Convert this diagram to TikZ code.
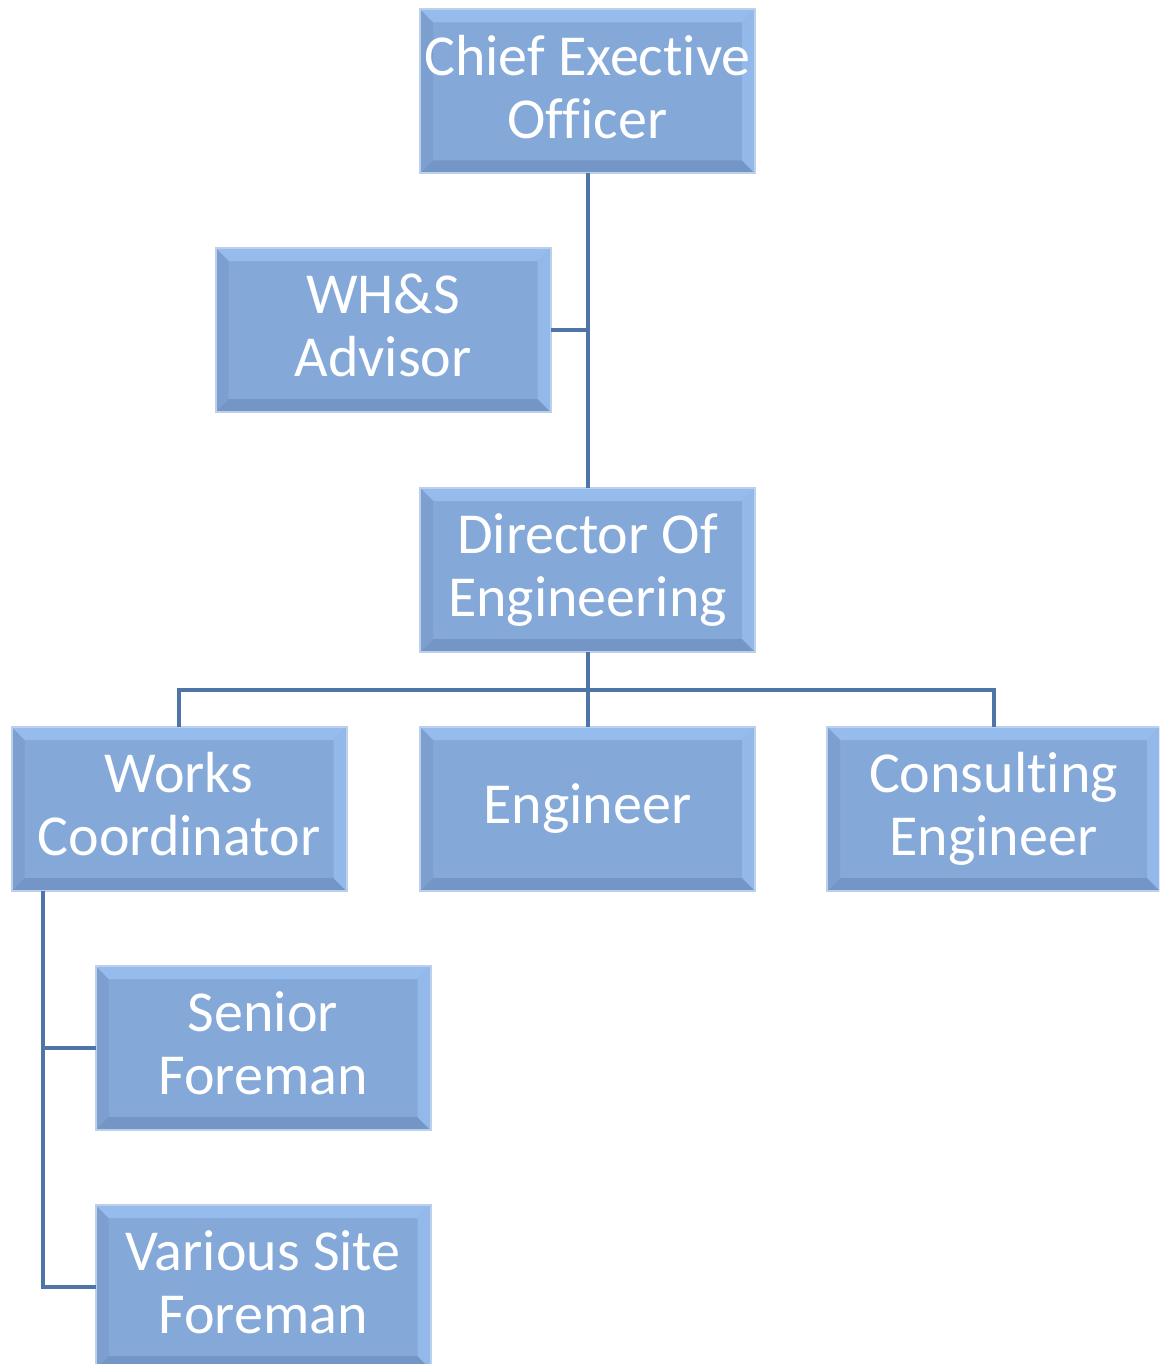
\documentclass[tikz,border=0pt]{standalone}
\usepackage{fontspec}
\setmainfont{Carlito}[Ligatures=NoCommon]
\definecolor{boxmid}{HTML}{84A8D8}
\definecolor{bevtop}{HTML}{96BCEE}
\definecolor{bevleft}{HTML}{7C9FCF}
\definecolor{bevright}{HTML}{93B8EA}
\definecolor{bevbot}{HTML}{7496C6}
\definecolor{boxedge}{HTML}{BCD0EC}
\definecolor{linkcol}{HTML}{4E74A8}
\tikzset{
  bevbox/.style={rectangle, inner sep=0pt, outer sep=0pt,
    minimum width=335pt, minimum height=164pt,
    fill=boxmid, draw=boxedge, line width=2pt, text=white, align=center,
    font=\fontsize{58}{63}\selectfont,
    path picture={
      \def\bb{path picture bounding box}
      \fill[bevtop] (\bb.north west) -- (\bb.north east) -- ([xshift=-13pt,yshift=-13pt]\bb.north east) -- ([xshift=13pt,yshift=-13pt]\bb.north west) -- cycle;
      \fill[bevbot] (\bb.south west) -- (\bb.south east) -- ([xshift=-13pt,yshift=13pt]\bb.south east) -- ([xshift=13pt,yshift=13pt]\bb.south west) -- cycle;
      \fill[bevleft] (\bb.south west) -- (\bb.north west) -- ([xshift=13pt,yshift=-13pt]\bb.north west) -- ([xshift=13pt,yshift=13pt]\bb.south west) -- cycle;
      \fill[bevright] (\bb.south east) -- (\bb.north east) -- ([xshift=-13pt,yshift=-13pt]\bb.north east) -- ([xshift=-13pt,yshift=13pt]\bb.south east) -- cycle;
    }},
  link/.style={draw=linkcol, line width=4pt}
}
\begin{document}
\begin{tikzpicture}[x=1pt,y=-1pt]
\useasboundingbox (0,0) rectangle (1159,1364);
\clip (0,0) rectangle (1159,1364);
\node[bevbox] (ceo) at (587.5,91.5) {Chief Exective\\Officer\vphantom{g}};
\node[bevbox] (whs) at (383,330) {WH\&S\\Advisor\vphantom{g}};
\node[bevbox] (dir) at (587.5,570) {Director Of\\Engineering};
\node[bevbox] (wc) at (179,809) {Works\\Coordinator\vphantom{g}};
\node[bevbox] (eng) at (587.5,809) {Engineer};
\node[bevbox, minimum width=333pt] (cons) at (993.5,809) {Consulting\\Engineer};
\node[bevbox] (sf) at (263,1048) {Senior\\Foreman\vphantom{g}};
\node[bevbox] (vsf) at (263,1287) {Various Site\\Foreman\vphantom{g}};
\coordinate (bus) at (587.5,690);
\coordinate (wcl) at (43,891);
\draw[link] (ceo.south) -- (dir.north);
\draw[link] (whs.east) -- (whs.east -| ceo.south);
\draw[link] (dir.south) -- (eng.north);
\draw[link] (wc.north) |- (bus) -| (cons.north);
\draw[link] (wcl) |- (sf.west);
\draw[link] (wcl) |- (vsf.west);
\end{tikzpicture}
\end{document}
